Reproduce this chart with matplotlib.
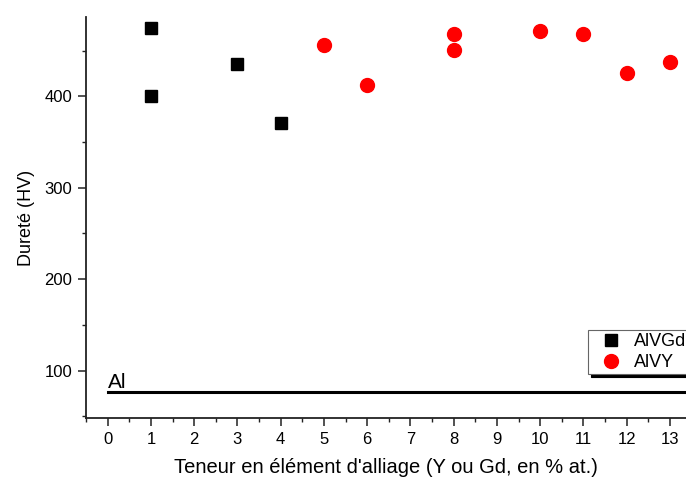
import numpy as np
import matplotlib
matplotlib.use("Agg")
import matplotlib.pyplot as plt
from matplotlib.ticker import MultipleLocator

plt.rcParams['font.family'] = ['Liberation Sans', 'DejaVu Sans']

# AlVGd alloys (black squares)
gd_x = [1, 1, 3, 4]
gd_hv = [475, 400, 436, 371]

# AlVY alloys (red circles)
y_x = [5, 6, 8, 8, 10, 11, 12, 13]
y_hv = [456, 413, 468, 451, 472, 468, 426, 438]

# pure aluminium reference
al_hv = 76
al_x = [0, 14]

fig = plt.figure(figsize=(6.86, 4.78), dpi=100)
ax = fig.add_axes([0.1254, 0.1255, 0.8746, 0.839])

ax.plot(al_x, [al_hv, al_hv], color='black', lw=2.2)
ax.text(0, al_hv + 5, 'Al', fontsize=15, ha='left', va='baseline')

ax.plot(gd_x, gd_hv, 's', color='black', ms=8.5, label='AlVGd', linestyle='none')
ax.plot(y_x, y_hv, 'o', color='red', ms=10, label='AlVY', linestyle='none')

ax.set_xlim(-0.5, 13.37)
ax.set_ylim(48, 487)
ax.xaxis.set_major_locator(MultipleLocator(1))
ax.xaxis.set_minor_locator(MultipleLocator(0.5))
ax.yaxis.set_major_locator(MultipleLocator(100))
ax.yaxis.set_minor_locator(MultipleLocator(50))

for s in ['top', 'right']:
    ax.spines[s].set_visible(False)
for s in ['left', 'bottom']:
    ax.spines[s].set_linewidth(1.3)
    ax.spines[s].set_color('#222222')

ax.tick_params(which='major', direction='out', length=6, width=1.1, labelsize=12, pad=4, color='#222222')
ax.tick_params(which='minor', direction='out', length=3, width=1.0, color='#222222')

ax.set_xlabel("Teneur en élément d'alliage (Y ou Gd, en % at.)", fontsize=14.5, labelpad=8)
ax.set_ylabel("Dureté (HV)", fontsize=13, labelpad=7)

leg = ax.legend(loc='upper left', bbox_to_anchor=(0.837, 0.219), borderaxespad=0,
                fontsize=13, fancybox=False, edgecolor='#666666', framealpha=1,
                shadow={'color': 'black', 'alpha': 1}, handletextpad=0.2,
                borderpad=0.15, labelspacing=0.25, handlelength=2.2)
leg.get_frame().set_linewidth(0.8)

fig.savefig('out.png', dpi=100)
